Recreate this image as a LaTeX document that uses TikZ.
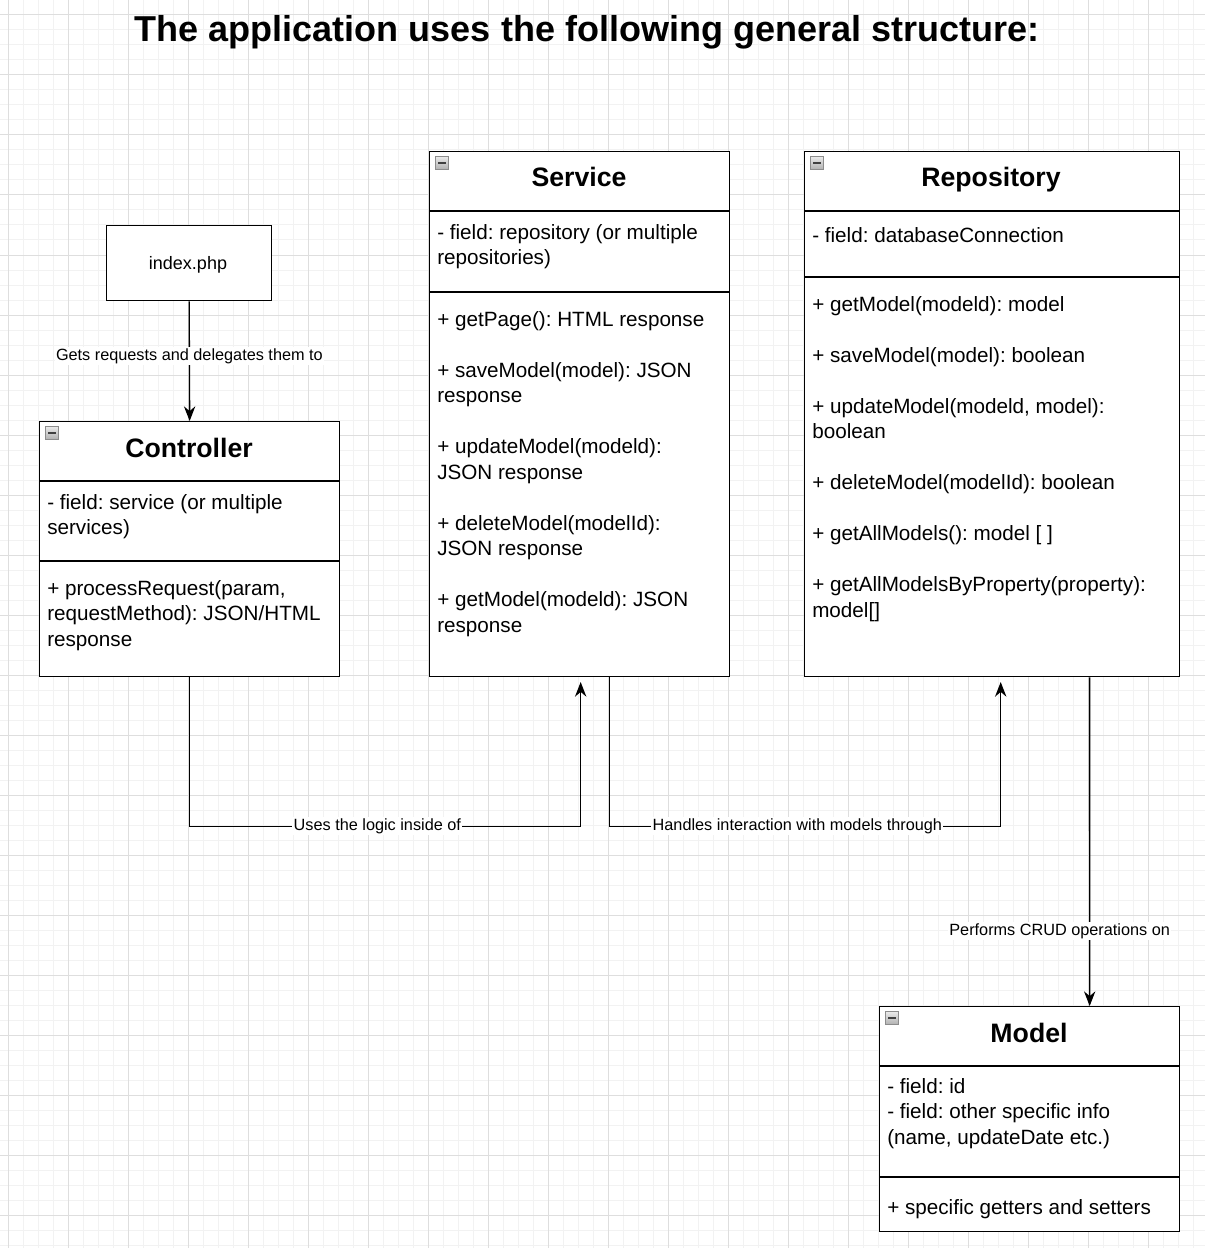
\documentclass[tikz,border=0pt]{standalone}
\usepackage{fontspec}
\setmainfont{Liberation Sans}
\usetikzlibrary{positioning,arrows.meta}
\frenchspacing

\tikzset{
  gridminor/.style = { draw=black!5, line width=.75pt },
  gridmajor/.style = { draw=black!13, line width=.75pt },
}

\begin{document}
\begin{tikzpicture}
        [ x = .75pt, y = -.75pt
        , class/.style =
          { draw, line width=1pt, fill=white, anchor=north west, inner sep=0pt }
        , header/.style =
          { anchor=base, font=\bfseries\fontsize{20}{24}\selectfont }
        , members/.style =
          { anchor=north west, yshift=11.1pt, align=left, inner sep=0pt
          , font=\fontsize{15.5}{19.1}\selectfont, execute at begin node=\strut }
        , divider/.style =
          { line width=1pt }
        , toggle/.style =
          { draw=black!45, line width=.6pt, top color=black!8, bottom color=black!30
          , minimum size=9.5pt, inner sep=0pt, anchor=north west }
        , label/.style =
          { fill=white, inner sep=1pt, font=\fontsize{12.2}{14}\selectfont }
        , link/.style =
          { line width=1pt, -{Stealth[length=11pt,width=8.5pt]} }
        ]
        \useasboundingbox (0,0) rectangle (1205,1248);
        \fill [white] (0,0) rectangle (1205,1248);

        % background grid
        \foreach \gx in {8,23,...,1205} \draw [gridminor] (\gx,0) -- (\gx,1248);
        \foreach \gy in {0,15,...,1248} \draw [gridminor] (0,\gy) -- (1205,\gy);
        \foreach \gx in {8,68,...,1205} \draw [gridmajor] (\gx,0) -- (\gx,1248);
        \foreach \gy in {15,75,...,1248} \draw [gridmajor] (0,\gy) -- (1205,\gy);

        \node [anchor=base, font=\bfseries\fontsize{27}{32}\selectfont] (heading) at (587,42)
          {The application uses the following general structure:};

        % entry point
        \node [class, minimum width=123.75pt, minimum height=56.25pt] (index) at (106,225) {};
        \node [anchor=base, font=\fontsize{13.5}{16}\selectfont] (indextext) at (188,269) {index.php};

        % Controller
        \node [class, minimum width=225pt, minimum height=191.25pt] (ctrl) at (39,421) {};
        \node [toggle] (ctrltoggle) at (45,426) {};
        \draw [line width=1.2pt, black!75] (48,433) -- (56,433);
        \node [header] (ctrltitle) at (189,457) {Controller};
        \draw [divider] (39,481) -- (339,481);
        \draw [divider] (39,561) -- (339,561);
        \node [members] (ctrlfields) at (47,509)
          {- field: service (or multiple\\services)};
        \node [members] (ctrlmethods) at (47,595)
          {+ processRequest(param,\\requestMethod): JSON/HTML\\response};

        % Service
        \node [class, minimum width=225pt, minimum height=393.75pt] (svc) at (429,151) {};
        \node [toggle] (svctoggle) at (435,156) {};
        \draw [line width=1.2pt, black!75] (438,163) -- (446,163);
        \node [header] (svctitle) at (579,187) {Service};
        \draw [divider] (429,211) -- (729,211);
        \draw [divider] (429,292) -- (729,292);
        \node [members] (svcfields) at (437,239)
          {- field: repository (or multiple\\repositories)};
        \node [members] (svcmethods) at (437,326)
          {+ getPage(): HTML response\\[19.1pt]
           + saveModel(model): JSON\\response\\[19.1pt]
           + updateModel(modeld):\\JSON response\\[19.1pt]
           + deleteModel(modelId):\\JSON response\\[19.1pt]
           + getModel(modeld): JSON\\response};

        % Repository
        \node [class, minimum width=281.25pt, minimum height=393.75pt] (repo) at (804,151) {};
        \node [toggle] (repotoggle) at (810,156) {};
        \draw [line width=1.2pt, black!75] (813,163) -- (821,163);
        \node [header] (repotitle) at (991,187) {Repository};
        \draw [divider] (804,211) -- (1179,211);
        \draw [divider] (804,277) -- (1179,277);
        \node [members] (repofields) at (812,239)
          {- field: databaseConnection};
        \node [members] (repomethods) at (812,311)
          {+ getModel(modeld): model\\[19.1pt]
           + saveModel(model): boolean\\[19.1pt]
           + updateModel(modeld, model):\\boolean\\[19.1pt]
           + deleteModel(modelId): boolean\\[19.1pt]
           + getAllModels(): model [ ]\\[19.1pt]
           + getAllModelsByProperty(property):\\model[]};

        % Model
        \node [class, minimum width=225pt, minimum height=168.75pt] (model) at (879,1006) {};
        \node [toggle] (modeltoggle) at (885,1011) {};
        \draw [line width=1.2pt, black!75] (888,1018) -- (896,1018);
        \node [header] (modeltitle) at (1029,1042) {Model};
        \draw [divider] (879,1066) -- (1179,1066);
        \draw [divider] (879,1177) -- (1179,1177);
        \node [members] (modelfields) at (887,1093)
          {- field: id\\- field: other specific info\\(name, updateDate etc.)};
        \node [members] (modelmethods) at (887,1211)
          {+ specific getters and setters};

        % connectors
        \draw [link] (index.south) -- node [label, pos=.46] {Gets requests and delegates them to} (ctrl.north);
        \draw [link, shorten >=3.5pt] (ctrl.south) -- ++(0,149)
          -| node [label, pos=.24] {Uses the logic inside of} ([xshift=.75pt]svc.south);
        \draw [link, shorten >=3.5pt] ([xshift=22.5pt]svc.south) -- ++(0,149)
          -| node [label, pos=.24] {Handles interaction with models through} ([xshift=6.4pt]repo.south);
        \draw [link] ([xshift=73.1pt]repo.south) -- node [label, pos=.773, xshift=-22.5pt]
          {Performs CRUD operations on} ([xshift=45pt]model.north);
\end{tikzpicture}
\end{document}
